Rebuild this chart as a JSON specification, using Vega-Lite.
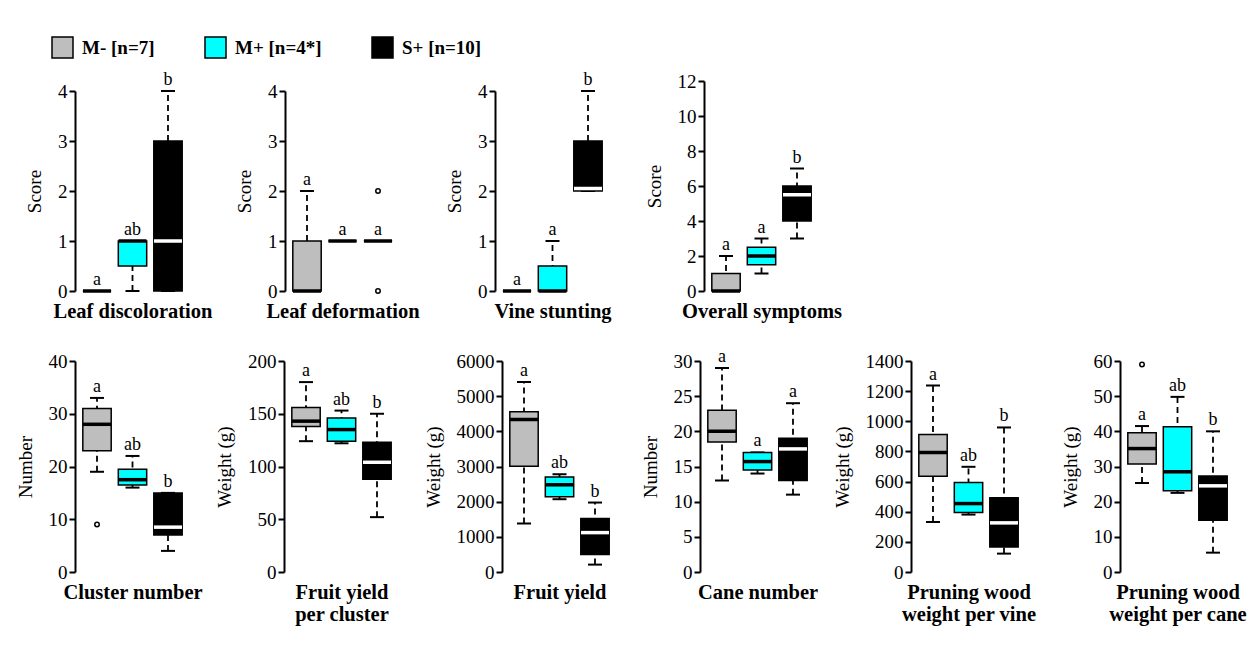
{
  "$schema": "https://vega.github.io/schema/vega-lite/v6.json",
  "background": "white",
  "padding": {"left": 16, "top": 36, "right": 5, "bottom": 5},
  "datasets": {
    "boxes": [
      {"panel": "Leaf discoloration", "g": "M- [n=7]", "lo": 0, "q1": 0, "med": 0, "q3": 0, "hi": 0, "letter": "a"},
      {"panel": "Leaf discoloration", "g": "M+ [n=4*]", "lo": 0, "q1": 0.5, "med": 1, "q3": 1, "hi": 1, "letter": "ab"},
      {"panel": "Leaf discoloration", "g": "S+ [n=10]", "lo": 0, "q1": 0, "med": 1, "q3": 3, "hi": 4, "letter": "b"},
      {"panel": "Leaf deformation", "g": "M- [n=7]", "lo": 0, "q1": 0, "med": 0, "q3": 1, "hi": 2, "letter": "a"},
      {"panel": "Leaf deformation", "g": "M+ [n=4*]", "lo": 1, "q1": 1, "med": 1, "q3": 1, "hi": 1, "letter": "a"},
      {"panel": "Leaf deformation", "g": "S+ [n=10]", "lo": 1, "q1": 1, "med": 1, "q3": 1, "hi": 1, "letter": "a"},
      {"panel": "Vine stunting", "g": "M- [n=7]", "lo": 0, "q1": 0, "med": 0, "q3": 0, "hi": 0, "letter": "a"},
      {"panel": "Vine stunting", "g": "M+ [n=4*]", "lo": 0, "q1": 0, "med": 0, "q3": 0.5, "hi": 1, "letter": "a"},
      {"panel": "Vine stunting", "g": "S+ [n=10]", "lo": 2, "q1": 2, "med": 2.05, "q3": 3, "hi": 4, "letter": "b"},
      {"panel": "Overall symptoms", "g": "M- [n=7]", "lo": 0, "q1": 0, "med": 0, "q3": 1, "hi": 2, "letter": "a"},
      {"panel": "Overall symptoms", "g": "M+ [n=4*]", "lo": 1, "q1": 1.5, "med": 2, "q3": 2.5, "hi": 3, "letter": "a"},
      {"panel": "Overall symptoms", "g": "S+ [n=10]", "lo": 3, "q1": 4, "med": 5.5, "q3": 6, "hi": 7, "letter": "b"},
      {"panel": "Cluster number", "g": "M- [n=7]", "lo": 19, "q1": 23, "med": 28, "q3": 31, "hi": 33, "letter": "a"},
      {"panel": "Cluster number", "g": "M+ [n=4*]", "lo": 16, "q1": 16.5, "med": 17.5, "q3": 19.5, "hi": 22, "letter": "ab"},
      {"panel": "Cluster number", "g": "S+ [n=10]", "lo": 4, "q1": 7, "med": 8.5, "q3": 15, "hi": 15, "letter": "b"},
      {"panel": "Fruit yield per cluster", "g": "M- [n=7]", "lo": 124, "q1": 138, "med": 143, "q3": 156, "hi": 180, "letter": "a"},
      {"panel": "Fruit yield per cluster", "g": "M+ [n=4*]", "lo": 122, "q1": 124, "med": 135, "q3": 146, "hi": 153, "letter": "ab"},
      {"panel": "Fruit yield per cluster", "g": "S+ [n=10]", "lo": 52, "q1": 88, "med": 104, "q3": 123, "hi": 150, "letter": "b"},
      {"panel": "Fruit yield", "g": "M- [n=7]", "lo": 1380, "q1": 3010, "med": 4340, "q3": 4560, "hi": 5400, "letter": "a"},
      {"panel": "Fruit yield", "g": "M+ [n=4*]", "lo": 2070, "q1": 2140, "med": 2480, "q3": 2700, "hi": 2780, "letter": "ab"},
      {"panel": "Fruit yield", "g": "S+ [n=10]", "lo": 210, "q1": 500, "med": 1120, "q3": 1520, "hi": 1975, "letter": "b"},
      {"panel": "Cane number", "g": "M- [n=7]", "lo": 13, "q1": 18.5, "med": 20, "q3": 23, "hi": 29, "letter": "a"},
      {"panel": "Cane number", "g": "M+ [n=4*]", "lo": 14, "q1": 14.5, "med": 15.7, "q3": 17, "hi": 17, "letter": "a"},
      {"panel": "Cane number", "g": "S+ [n=10]", "lo": 11, "q1": 13, "med": 17.5, "q3": 19, "hi": 24, "letter": "a"},
      {"panel": "Pruning wood weight per vine", "g": "M- [n=7]", "lo": 332, "q1": 635, "med": 793, "q3": 913, "hi": 1237, "letter": "a"},
      {"panel": "Pruning wood weight per vine", "g": "M+ [n=4*]", "lo": 381, "q1": 395, "med": 454, "q3": 594, "hi": 698, "letter": "ab"},
      {"panel": "Pruning wood weight per vine", "g": "S+ [n=10]", "lo": 122, "q1": 166, "med": 326, "q3": 492, "hi": 959, "letter": "b"},
      {"panel": "Pruning wood weight per cane", "g": "M- [n=7]", "lo": 25.3, "q1": 30.7, "med": 35.1, "q3": 39.6, "hi": 41.5, "letter": "a"},
      {"panel": "Pruning wood weight per cane", "g": "M+ [n=4*]", "lo": 22.5, "q1": 23.1, "med": 28.5, "q3": 41.3, "hi": 49.8, "letter": "ab"},
      {"panel": "Pruning wood weight per cane", "g": "S+ [n=10]", "lo": 5.5, "q1": 14.7, "med": 24.5, "q3": 27.3, "hi": 40, "letter": "b"}
    ],
    "outliers": [
      {"panel": "Leaf deformation", "g": "S+ [n=10]", "v": 2},
      {"panel": "Leaf deformation", "g": "S+ [n=10]", "v": 0},
      {"panel": "Cluster number", "g": "M- [n=7]", "v": 9},
      {"panel": "Pruning wood weight per cane", "g": "M- [n=7]", "v": 59}
    ]
  },
  "data": {"name": "boxes"},
  "vconcat": [
    {
      "hconcat": [
        {
          "width": 209.5, "height": 210,
          "transform": [{"filter": {"field": "panel", "equal": "Leaf discoloration"}}],
          "encoding": {"x": {"field": "g", "type": "nominal", "sort": null, "scale": {"domain": ["M- [n=7]", "M+ [n=4*]", "S+ [n=10]"], "range": [0, 115], "paddingInner": 0.2, "paddingOuter": 0.22}, "axis": {"title": "Leaf discoloration"}}},
          "layer": [
            {"mark": {"type": "rule", "strokeDash": [6, 4], "strokeWidth": 1.8, "color": "black"}, "encoding": {"y": {"field": "lo", "type": "quantitative", "title": "Score", "scale": {"domain": [0, 4], "range": [210, 10], "nice": false}, "axis": {"values": [0, 1, 2, 3, 4], "tickCount": 20, "format": "d", "labelOverlap": false}}, "y2": {"field": "hi"}}},
            {"transform": [{"fold": ["lo", "hi"], "as": ["k", "v"]}], "mark": {"type": "tick", "size": 14, "thickness": 2, "color": "black", "opacity": 1}, "encoding": {"y": {"field": "v", "type": "quantitative", "title": "Score"}}},
            {"mark": {"type": "bar", "stroke": "black", "strokeWidth": 1.5}, "encoding": {"y": {"field": "q1", "type": "quantitative", "title": "Score"}, "y2": {"field": "q3"}, "fill": {"field": "g", "type": "nominal", "scale": {"domain": ["M- [n=7]", "M+ [n=4*]", "S+ [n=10]"], "range": ["#bebebe", "#00ffff", "#000000"]}, "legend": {"title": null, "orient": "none", "legendX": -24, "legendY": -45, "direction": "horizontal", "symbolType": "square", "symbolSize": 441, "symbolStrokeColor": "black", "symbolStrokeWidth": 1.5, "labelFont": "Liberation Serif", "labelFontSize": 19, "labelFontWeight": "bold", "labelColor": "black", "labelOffset": 8, "columnPadding": 47, "padding": 0}}}},
            {"mark": {"type": "tick", "size": 28, "thickness": 3.5, "opacity": 1}, "encoding": {"y": {"field": "med", "type": "quantitative", "title": "Score"}, "color": {"condition": {"test": "datum.q3 == datum.q1", "value": "black"}, "field": "g", "type": "nominal", "scale": {"domain": ["M- [n=7]", "M+ [n=4*]", "S+ [n=10]"], "range": ["black", "black", "white"]}, "legend": null}}},
            {"mark": {"type": "text", "dy": -6, "baseline": "alphabetic", "fontSize": 18, "font": "Liberation Serif", "color": "black"}, "encoding": {"y": {"field": "hi", "type": "quantitative", "title": "Score"}, "text": {"field": "letter"}}}
          ]
        },
        {
          "width": 209.2, "height": 210,
          "transform": [{"filter": {"field": "panel", "equal": "Leaf deformation"}}],
          "encoding": {"x": {"field": "g", "type": "nominal", "sort": null, "scale": {"domain": ["M- [n=7]", "M+ [n=4*]", "S+ [n=10]"], "range": [0, 115], "paddingInner": 0.2, "paddingOuter": 0.22}, "axis": {"title": "Leaf deformation"}}},
          "layer": [
            {"mark": {"type": "rule", "strokeDash": [6, 4], "strokeWidth": 1.8, "color": "black"}, "encoding": {"y": {"field": "lo", "type": "quantitative", "title": "Score", "scale": {"domain": [0, 4], "range": [210, 10], "nice": false}, "axis": {"values": [0, 1, 2, 3, 4], "tickCount": 20, "format": "d", "labelOverlap": false}}, "y2": {"field": "hi"}}},
            {"transform": [{"fold": ["lo", "hi"], "as": ["k", "v"]}], "mark": {"type": "tick", "size": 14, "thickness": 2, "color": "black", "opacity": 1}, "encoding": {"y": {"field": "v", "type": "quantitative", "title": "Score"}}},
            {"mark": {"type": "bar", "stroke": "black", "strokeWidth": 1.5}, "encoding": {"y": {"field": "q1", "type": "quantitative", "title": "Score"}, "y2": {"field": "q3"}, "fill": {"field": "g", "type": "nominal"}}},
            {"mark": {"type": "tick", "size": 28, "thickness": 3.5, "opacity": 1}, "encoding": {"y": {"field": "med", "type": "quantitative", "title": "Score"}, "color": {"condition": {"test": "datum.q3 == datum.q1", "value": "black"}, "field": "g", "type": "nominal", "legend": null}}},
            {"data": {"name": "outliers"}, "transform": [{"filter": {"field": "panel", "equal": "Leaf deformation"}}], "mark": {"type": "point", "shape": "circle", "filled": false, "size": 20, "strokeWidth": 1.5, "color": "black", "opacity": 1}, "encoding": {"y": {"field": "v", "type": "quantitative", "title": "Score"}}},
            {"mark": {"type": "text", "dy": -6, "baseline": "alphabetic", "fontSize": 18, "font": "Liberation Serif", "color": "black"}, "encoding": {"y": {"field": "hi", "type": "quantitative", "title": "Score"}, "text": {"field": "letter"}}}
          ]
        },
        {
          "width": 209, "height": 210,
          "transform": [{"filter": {"field": "panel", "equal": "Vine stunting"}}],
          "encoding": {"x": {"field": "g", "type": "nominal", "sort": null, "scale": {"domain": ["M- [n=7]", "M+ [n=4*]", "S+ [n=10]"], "range": [0, 115], "paddingInner": 0.2, "paddingOuter": 0.22}, "axis": {"title": "Vine stunting"}}},
          "layer": [
            {"mark": {"type": "rule", "strokeDash": [6, 4], "strokeWidth": 1.8, "color": "black"}, "encoding": {"y": {"field": "lo", "type": "quantitative", "title": "Score", "scale": {"domain": [0, 4], "range": [210, 10], "nice": false}, "axis": {"values": [0, 1, 2, 3, 4], "tickCount": 20, "format": "d", "labelOverlap": false}}, "y2": {"field": "hi"}}},
            {"transform": [{"fold": ["lo", "hi"], "as": ["k", "v"]}], "mark": {"type": "tick", "size": 14, "thickness": 2, "color": "black", "opacity": 1}, "encoding": {"y": {"field": "v", "type": "quantitative", "title": "Score"}}},
            {"mark": {"type": "bar", "stroke": "black", "strokeWidth": 1.5}, "encoding": {"y": {"field": "q1", "type": "quantitative", "title": "Score"}, "y2": {"field": "q3"}, "fill": {"field": "g", "type": "nominal"}}},
            {"mark": {"type": "tick", "size": 28, "thickness": 3.5, "opacity": 1}, "encoding": {"y": {"field": "med", "type": "quantitative", "title": "Score"}, "color": {"condition": {"test": "datum.q3 == datum.q1", "value": "black"}, "field": "g", "type": "nominal", "legend": null}}},
            {"mark": {"type": "text", "dy": -6, "baseline": "alphabetic", "fontSize": 18, "font": "Liberation Serif", "color": "black"}, "encoding": {"y": {"field": "hi", "type": "quantitative", "title": "Score"}, "text": {"field": "letter"}}}
          ]
        },
        {
          "width": 115, "height": 210,
          "transform": [{"filter": {"field": "panel", "equal": "Overall symptoms"}}],
          "encoding": {"x": {"field": "g", "type": "nominal", "sort": null, "scale": {"domain": ["M- [n=7]", "M+ [n=4*]", "S+ [n=10]"], "range": [0, 115], "paddingInner": 0.2, "paddingOuter": 0.22}, "axis": {"title": "Overall symptoms"}}},
          "layer": [
            {"mark": {"type": "rule", "strokeDash": [6, 4], "strokeWidth": 1.8, "color": "black"}, "encoding": {"y": {"field": "lo", "type": "quantitative", "title": "Score", "scale": {"domain": [0, 12], "nice": false}, "axis": {"values": [0, 2, 4, 6, 8, 10, 12], "tickCount": 20, "format": "d", "labelOverlap": false}}, "y2": {"field": "hi"}}},
            {"transform": [{"fold": ["lo", "hi"], "as": ["k", "v"]}], "mark": {"type": "tick", "size": 14, "thickness": 2, "color": "black", "opacity": 1}, "encoding": {"y": {"field": "v", "type": "quantitative", "title": "Score"}}},
            {"mark": {"type": "bar", "stroke": "black", "strokeWidth": 1.5}, "encoding": {"y": {"field": "q1", "type": "quantitative", "title": "Score"}, "y2": {"field": "q3"}, "fill": {"field": "g", "type": "nominal"}}},
            {"mark": {"type": "tick", "size": 28, "thickness": 3.5, "opacity": 1}, "encoding": {"y": {"field": "med", "type": "quantitative", "title": "Score"}, "color": {"condition": {"test": "datum.q3 == datum.q1", "value": "black"}, "field": "g", "type": "nominal", "legend": null}}},
            {"mark": {"type": "text", "dy": -6, "baseline": "alphabetic", "fontSize": 18, "font": "Liberation Serif", "color": "black"}, "encoding": {"y": {"field": "hi", "type": "quantitative", "title": "Score"}, "text": {"field": "letter"}}}
          ]
        }
      ],
      "spacing": 0,
      "bounds": "flush"
    },
    {
      "hconcat": [
        {
          "width": 208.3, "height": 211,
          "transform": [{"filter": {"field": "panel", "equal": "Cluster number"}}],
          "encoding": {"x": {"field": "g", "type": "nominal", "sort": null, "scale": {"domain": ["M- [n=7]", "M+ [n=4*]", "S+ [n=10]"], "range": [0, 115], "paddingInner": 0.2, "paddingOuter": 0.22}, "axis": {"title": "Cluster number"}}},
          "layer": [
            {"mark": {"type": "rule", "strokeDash": [6, 4], "strokeWidth": 1.8, "color": "black"}, "encoding": {"y": {"field": "lo", "type": "quantitative", "title": "Number", "scale": {"domain": [0, 40], "nice": false}, "axis": {"values": [0, 10, 20, 30, 40], "tickCount": 20, "format": "d", "labelOverlap": false}}, "y2": {"field": "hi"}}},
            {"transform": [{"fold": ["lo", "hi"], "as": ["k", "v"]}], "mark": {"type": "tick", "size": 14, "thickness": 2, "color": "black", "opacity": 1}, "encoding": {"y": {"field": "v", "type": "quantitative", "title": "Number"}}},
            {"mark": {"type": "bar", "stroke": "black", "strokeWidth": 1.5}, "encoding": {"y": {"field": "q1", "type": "quantitative", "title": "Number"}, "y2": {"field": "q3"}, "fill": {"field": "g", "type": "nominal"}}},
            {"mark": {"type": "tick", "size": 28, "thickness": 3.5, "opacity": 1}, "encoding": {"y": {"field": "med", "type": "quantitative", "title": "Number"}, "color": {"condition": {"test": "datum.q3 == datum.q1", "value": "black"}, "field": "g", "type": "nominal", "legend": null}}},
            {"data": {"name": "outliers"}, "transform": [{"filter": {"field": "panel", "equal": "Cluster number"}}], "mark": {"type": "point", "shape": "circle", "filled": false, "size": 20, "strokeWidth": 1.5, "color": "black", "opacity": 1}, "encoding": {"y": {"field": "v", "type": "quantitative", "title": "Number"}}},
            {"mark": {"type": "text", "dy": -6, "baseline": "alphabetic", "fontSize": 18, "font": "Liberation Serif", "color": "black"}, "encoding": {"y": {"field": "hi", "type": "quantitative", "title": "Number"}, "text": {"field": "letter"}}}
          ]
        },
        {
          "width": 217.7, "height": 211,
          "transform": [{"filter": {"field": "panel", "equal": "Fruit yield per cluster"}}],
          "encoding": {"x": {"field": "g", "type": "nominal", "sort": null, "scale": {"domain": ["M- [n=7]", "M+ [n=4*]", "S+ [n=10]"], "range": [0, 115], "paddingInner": 0.2, "paddingOuter": 0.22}, "axis": {"title": ["Fruit yield", "per cluster"]}}},
          "layer": [
            {"mark": {"type": "rule", "strokeDash": [6, 4], "strokeWidth": 1.8, "color": "black"}, "encoding": {"y": {"field": "lo", "type": "quantitative", "title": "Weight (g)", "scale": {"domain": [0, 200], "nice": false}, "axis": {"values": [0, 50, 100, 150, 200], "tickCount": 20, "format": "d", "labelOverlap": false}}, "y2": {"field": "hi"}}},
            {"transform": [{"fold": ["lo", "hi"], "as": ["k", "v"]}], "mark": {"type": "tick", "size": 14, "thickness": 2, "color": "black", "opacity": 1}, "encoding": {"y": {"field": "v", "type": "quantitative", "title": "Weight (g)"}}},
            {"mark": {"type": "bar", "stroke": "black", "strokeWidth": 1.5}, "encoding": {"y": {"field": "q1", "type": "quantitative", "title": "Weight (g)"}, "y2": {"field": "q3"}, "fill": {"field": "g", "type": "nominal"}}},
            {"mark": {"type": "tick", "size": 28, "thickness": 3.5, "opacity": 1}, "encoding": {"y": {"field": "med", "type": "quantitative", "title": "Weight (g)"}, "color": {"condition": {"test": "datum.q3 == datum.q1", "value": "black"}, "field": "g", "type": "nominal", "legend": null}}},
            {"mark": {"type": "text", "dy": -6, "baseline": "alphabetic", "fontSize": 18, "font": "Liberation Serif", "color": "black"}, "encoding": {"y": {"field": "hi", "type": "quantitative", "title": "Weight (g)"}, "text": {"field": "letter"}}}
          ]
        },
        {
          "width": 198, "height": 211,
          "transform": [{"filter": {"field": "panel", "equal": "Fruit yield"}}],
          "encoding": {"x": {"field": "g", "type": "nominal", "sort": null, "scale": {"domain": ["M- [n=7]", "M+ [n=4*]", "S+ [n=10]"], "range": [0, 115], "paddingInner": 0.2, "paddingOuter": 0.22}, "axis": {"title": "Fruit yield"}}},
          "layer": [
            {"mark": {"type": "rule", "strokeDash": [6, 4], "strokeWidth": 1.8, "color": "black"}, "encoding": {"y": {"field": "lo", "type": "quantitative", "title": "Weight (g)", "scale": {"domain": [0, 6000], "nice": false}, "axis": {"values": [0, 1000, 2000, 3000, 4000, 5000, 6000], "tickCount": 20, "format": "d", "labelOverlap": false}}, "y2": {"field": "hi"}}},
            {"transform": [{"fold": ["lo", "hi"], "as": ["k", "v"]}], "mark": {"type": "tick", "size": 14, "thickness": 2, "color": "black", "opacity": 1}, "encoding": {"y": {"field": "v", "type": "quantitative", "title": "Weight (g)"}}},
            {"mark": {"type": "bar", "stroke": "black", "strokeWidth": 1.5}, "encoding": {"y": {"field": "q1", "type": "quantitative", "title": "Weight (g)"}, "y2": {"field": "q3"}, "fill": {"field": "g", "type": "nominal"}}},
            {"mark": {"type": "tick", "size": 28, "thickness": 3.5, "opacity": 1}, "encoding": {"y": {"field": "med", "type": "quantitative", "title": "Weight (g)"}, "color": {"condition": {"test": "datum.q3 == datum.q1", "value": "black"}, "field": "g", "type": "nominal", "legend": null}}},
            {"mark": {"type": "text", "dy": -6, "baseline": "alphabetic", "fontSize": 18, "font": "Liberation Serif", "color": "black"}, "encoding": {"y": {"field": "hi", "type": "quantitative", "title": "Weight (g)"}, "text": {"field": "letter"}}}
          ]
        },
        {
          "width": 210.3, "height": 211,
          "transform": [{"filter": {"field": "panel", "equal": "Cane number"}}],
          "encoding": {"x": {"field": "g", "type": "nominal", "sort": null, "scale": {"domain": ["M- [n=7]", "M+ [n=4*]", "S+ [n=10]"], "range": [0, 115], "paddingInner": 0.2, "paddingOuter": 0.22}, "axis": {"title": "Cane number"}}},
          "layer": [
            {"mark": {"type": "rule", "strokeDash": [6, 4], "strokeWidth": 1.8, "color": "black"}, "encoding": {"y": {"field": "lo", "type": "quantitative", "title": "Number", "scale": {"domain": [0, 30], "nice": false}, "axis": {"values": [0, 5, 10, 15, 20, 25, 30], "tickCount": 20, "format": "d", "labelOverlap": false}}, "y2": {"field": "hi"}}},
            {"transform": [{"fold": ["lo", "hi"], "as": ["k", "v"]}], "mark": {"type": "tick", "size": 14, "thickness": 2, "color": "black", "opacity": 1}, "encoding": {"y": {"field": "v", "type": "quantitative", "title": "Number"}}},
            {"mark": {"type": "bar", "stroke": "black", "strokeWidth": 1.5}, "encoding": {"y": {"field": "q1", "type": "quantitative", "title": "Number"}, "y2": {"field": "q3"}, "fill": {"field": "g", "type": "nominal"}}},
            {"mark": {"type": "tick", "size": 28, "thickness": 3.5, "opacity": 1}, "encoding": {"y": {"field": "med", "type": "quantitative", "title": "Number"}, "color": {"condition": {"test": "datum.q3 == datum.q1", "value": "black"}, "field": "g", "type": "nominal", "legend": null}}},
            {"mark": {"type": "text", "dy": -6, "baseline": "alphabetic", "fontSize": 18, "font": "Liberation Serif", "color": "black"}, "encoding": {"y": {"field": "hi", "type": "quantitative", "title": "Number"}, "text": {"field": "letter"}}}
          ]
        },
        {
          "width": 209, "height": 211,
          "transform": [{"filter": {"field": "panel", "equal": "Pruning wood weight per vine"}}],
          "encoding": {"x": {"field": "g", "type": "nominal", "sort": null, "scale": {"domain": ["M- [n=7]", "M+ [n=4*]", "S+ [n=10]"], "range": [0, 115], "paddingInner": 0.2, "paddingOuter": 0.22}, "axis": {"title": ["Pruning wood", "weight per vine"]}}},
          "layer": [
            {"mark": {"type": "rule", "strokeDash": [6, 4], "strokeWidth": 1.8, "color": "black"}, "encoding": {"y": {"field": "lo", "type": "quantitative", "title": "Weight (g)", "scale": {"domain": [0, 1400], "nice": false}, "axis": {"values": [0, 200, 400, 600, 800, 1000, 1200, 1400], "tickCount": 20, "format": "d", "labelOverlap": false}}, "y2": {"field": "hi"}}},
            {"transform": [{"fold": ["lo", "hi"], "as": ["k", "v"]}], "mark": {"type": "tick", "size": 14, "thickness": 2, "color": "black", "opacity": 1}, "encoding": {"y": {"field": "v", "type": "quantitative", "title": "Weight (g)"}}},
            {"mark": {"type": "bar", "stroke": "black", "strokeWidth": 1.5}, "encoding": {"y": {"field": "q1", "type": "quantitative", "title": "Weight (g)"}, "y2": {"field": "q3"}, "fill": {"field": "g", "type": "nominal"}}},
            {"mark": {"type": "tick", "size": 28, "thickness": 3.5, "opacity": 1}, "encoding": {"y": {"field": "med", "type": "quantitative", "title": "Weight (g)"}, "color": {"condition": {"test": "datum.q3 == datum.q1", "value": "black"}, "field": "g", "type": "nominal", "legend": null}}},
            {"mark": {"type": "text", "dy": -6, "baseline": "alphabetic", "fontSize": 18, "font": "Liberation Serif", "color": "black"}, "encoding": {"y": {"field": "hi", "type": "quantitative", "title": "Weight (g)"}, "text": {"field": "letter"}}}
          ]
        },
        {
          "width": 115, "height": 211,
          "transform": [{"filter": {"field": "panel", "equal": "Pruning wood weight per cane"}}],
          "encoding": {"x": {"field": "g", "type": "nominal", "sort": null, "scale": {"domain": ["M- [n=7]", "M+ [n=4*]", "S+ [n=10]"], "range": [0, 115], "paddingInner": 0.2, "paddingOuter": 0.22}, "axis": {"title": ["Pruning wood", "weight per cane"]}}},
          "layer": [
            {"mark": {"type": "rule", "strokeDash": [6, 4], "strokeWidth": 1.8, "color": "black"}, "encoding": {"y": {"field": "lo", "type": "quantitative", "title": "Weight (g)", "scale": {"domain": [0, 60], "nice": false}, "axis": {"values": [0, 10, 20, 30, 40, 50, 60], "tickCount": 20, "format": "d", "labelOverlap": false}}, "y2": {"field": "hi"}}},
            {"transform": [{"fold": ["lo", "hi"], "as": ["k", "v"]}], "mark": {"type": "tick", "size": 14, "thickness": 2, "color": "black", "opacity": 1}, "encoding": {"y": {"field": "v", "type": "quantitative", "title": "Weight (g)"}}},
            {"mark": {"type": "bar", "stroke": "black", "strokeWidth": 1.5}, "encoding": {"y": {"field": "q1", "type": "quantitative", "title": "Weight (g)"}, "y2": {"field": "q3"}, "fill": {"field": "g", "type": "nominal"}}},
            {"mark": {"type": "tick", "size": 28, "thickness": 3.5, "opacity": 1}, "encoding": {"y": {"field": "med", "type": "quantitative", "title": "Weight (g)"}, "color": {"condition": {"test": "datum.q3 == datum.q1", "value": "black"}, "field": "g", "type": "nominal", "legend": null}}},
            {"data": {"name": "outliers"}, "transform": [{"filter": {"field": "panel", "equal": "Pruning wood weight per cane"}}], "mark": {"type": "point", "shape": "circle", "filled": false, "size": 20, "strokeWidth": 1.5, "color": "black", "opacity": 1}, "encoding": {"y": {"field": "v", "type": "quantitative", "title": "Weight (g)"}}},
            {"mark": {"type": "text", "dy": -6, "baseline": "alphabetic", "fontSize": 18, "font": "Liberation Serif", "color": "black"}, "encoding": {"y": {"field": "hi", "type": "quantitative", "title": "Weight (g)"}, "text": {"field": "letter"}}}
          ]
        }
      ],
      "spacing": 0,
      "bounds": "flush"
    }
  ],
  "spacing": 26,
  "config": {
    "view": {"stroke": null},
    "font": "Liberation Serif",
    "axisX": {"domain": false, "ticks": false, "labels": false, "grid": false, "titleFont": "Liberation Serif", "titleFontSize": 20.5, "titleFontWeight": "bold", "titleColor": "black", "titlePadding": 10, "titleLineHeight": 22},
    "axisY": {"domainColor": "black", "domainWidth": 2, "tickColor": "black", "tickWidth": 2, "tickSize": 6, "labelFont": "Liberation Serif", "labelFontSize": 19, "labelColor": "black", "labelPadding": 2, "labelOverlap": false, "titleFont": "Liberation Serif", "titleFontSize": 19, "titleFontWeight": "normal", "titleColor": "black", "titlePadding": 13, "grid": false}
  }
}
